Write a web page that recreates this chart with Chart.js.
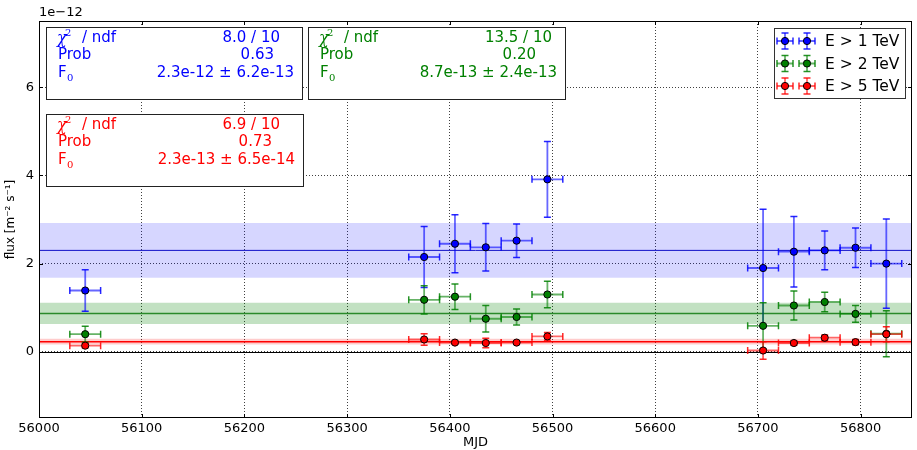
<!DOCTYPE html>
<html>
<head>
<meta charset="utf-8">
<script src="https://cdn.jsdelivr.net/npm/chart.js@4.4.1/dist/chart.umd.min.js"></script>
<style>
    body { margin: 0; background: #fff; }
</style>
</head>
<body>
<canvas id="js-lightcurve" width="917" height="450"></canvas>
<script>
// Lichtkurve - Flusswerte in Einheiten von 1e-12 m^-2 s^-1
const mjd = [56045, 56375, 56405, 56435, 56465, 56495, 56705, 56735, 56765, 56795, 56825];
const mjdErr = [15, 15, 15, 15, 15, 15, 15, 15, 15, 15, 15];

const flux1 = [1.39, 2.15, 2.45, 2.37, 2.52, 3.91, 1.90, 2.27, 2.30, 2.36, 2.00];
const flux1Err = [0.47, 0.69, 0.66, 0.54, 0.38, 0.86, 1.33, 0.80, 0.44, 0.45, 1.01];
const flux2 = [0.40, 1.18, 1.25, 0.75, 0.79, 1.30, 0.59, 1.05, 1.13, 0.86, 0.41];
const flux2Err = [0.18, 0.32, 0.29, 0.30, 0.18, 0.30, 0.52, 0.33, 0.22, 0.19, 0.52];
const flux5 = [0.14, 0.28, 0.21, 0.20, 0.21, 0.35, 0.03, 0.20, 0.32, 0.22, 0.40];
const flux5Err = [0.05, 0.13, 0.03, 0.11, 0.04, 0.09, 0.20, 0.05, 0.06, 0.06, 0.17];

// Fit mit Konstante F0
const fitF0 = [2.3, 0.87, 0.23];
const fitF0Err = [0.62, 0.24, 0.065];

const seriesLabels = ['E > 1 TeV', 'E > 2 TeV', 'E > 5 TeV'];
const chi2Text = ['8.0 / 10', '13.5 / 10', '6.9 / 10'];
const probText = ['0.63', '0.20', '0.73'];
const f0Text = ['2.3e-12 \u00b1 6.2e-13', '8.7e-13 \u00b1 2.4e-13', '2.3e-13 \u00b1 6.5e-14'];

const xTicks = [56000, 56100, 56200, 56300, 56400, 56500, 56600, 56700, 56800];
const yTicks = [0, 2, 4, 6];
const xMin = 56000, xMax = 56850;
const yMin = -1.5, yMax = 7.5;

const FONT = '"DejaVu Sans"';
Chart.defaults.font.family = FONT;
Chart.defaults.color = '#000';

const series = [
    {flux: flux1, err: flux1Err, rgb: '0,0,255', line: '#1010c8', band: 'rgba(0,0,255,0.16)', text: '#0000ff'},
    {flux: flux2, err: flux2Err, rgb: '0,128,0', line: '#2a8a2a', band: 'rgba(0,128,0,0.24)', text: '#008000'},
    {flux: flux5, err: flux5Err, rgb: '255,0,0', line: '#ff0000', band: 'rgba(255,0,0,0.2)', text: '#ff0000'}
];

// Zeichenreihenfolge: Baender + Fitlinien zuerst, dann Punkte
const datasets = [];
let seq = 0;
series.forEach((s, i) => {
    datasets.push({
        type: 'line',
        data: [{x: xMin, y: fitF0[i] + fitF0Err[i]}, {x: xMax, y: fitF0[i] + fitF0Err[i]}],
        borderWidth: 0,
        pointRadius: 0,
        fill: {value: fitF0[i] - fitF0Err[i]},
        backgroundColor: s.band,
        order: 20 - seq++
    });
    datasets.push({
        type: 'line',
        data: [{x: xMin, y: fitF0[i]}, {x: xMax, y: fitF0[i]}],
        borderColor: s.line,
        borderWidth: i === 0 ? 1 : 1.5,
        pointRadius: 0,
        fill: false,
        order: 20 - seq++
    });
});
series.forEach((s, i) => {
    datasets.push({
        type: 'line',
        label: seriesLabels[i],
        showLine: false,
        data: mjd.map((x, k) => ({x: x, y: s.flux[k]})),
        pointRadius: 3.6,
        pointBackgroundColor: 'rgb(' + s.rgb + ')',
        pointBorderColor: '#000',
        pointBorderWidth: 1,
        errX: mjdErr,
        errY: s.err,
        rgb: s.rgb,
        order: 20 - seq++
    });
});

function drawErrBar(ctx, px, py, dxPx, dyPx, rgb) {
    ctx.save();
    ctx.lineWidth = 1.8;
    ctx.strokeStyle = 'rgba(' + rgb + ',0.6)';
    ctx.beginPath();
    ctx.moveTo(px, py - dyPx); ctx.lineTo(px, py + dyPx);
    ctx.moveTo(px - dxPx, py); ctx.lineTo(px + dxPx, py);
    ctx.stroke();
    ctx.strokeStyle = 'rgba(' + rgb + ',0.85)';
    ctx.lineWidth = 1.5;
    ctx.beginPath();
    ctx.moveTo(px - 3.5, py - dyPx); ctx.lineTo(px + 3.5, py - dyPx);
    ctx.moveTo(px - 3.5, py + dyPx); ctx.lineTo(px + 3.5, py + dyPx);
    ctx.moveTo(px - dxPx, py - 3.5); ctx.lineTo(px - dxPx, py + 3.5);
    ctx.moveTo(px + dxPx, py - 3.5); ctx.lineTo(px + dxPx, py + 3.5);
    ctx.stroke();
    ctx.restore();
}

function statBox(ctx, x, y, w, h, color, i, offs) {
    ctx.save();
    ctx.fillStyle = '#fff';
    ctx.fillRect(x, y, w, h);
    ctx.strokeStyle = '#222';
    ctx.lineWidth = 1;
    ctx.strokeRect(x + 0.5, y + 0.5, w, h);
    ctx.fillStyle = color;
    ctx.textBaseline = 'middle';
    const r1 = y + 11, r2 = y + 28.5, r3 = y + 46.5;
    ctx.textAlign = 'left';
    ctx.font = 'italic 16px "DejaVu Serif"';
    ctx.fillText('\u03c7', x + 11, r1 + 1);
    ctx.font = '10px "DejaVu Serif"';
    ctx.fillText('2', x + 19, r1 - 5);
    ctx.font = '15px ' + FONT;
    ctx.fillText('/ ndf', x + 36, r1);
    ctx.fillText('Prob', x + 12, r2);
    ctx.fillText('F', x + 12, r3);
    ctx.font = '10px "DejaVu Serif"';
    ctx.fillText('0', x + 21, r3 + 5);
    ctx.font = '15px ' + FONT;
    ctx.textAlign = 'right';
    ctx.fillText(chi2Text[i], x + w - offs[0], r1);
    ctx.fillText(probText[i], x + w - offs[1], r2);
    ctx.fillText(f0Text[i], x + w - offs[2], r3);
    ctx.restore();
}

const extras = {
    id: 'extras',
    beforeDatasetsDraw(chart) {
        const {ctx, chartArea: a, scales: {y}} = chart;
        const y0 = Math.round(y.getPixelForValue(0)) + 0.5;
        ctx.save();
        ctx.strokeStyle = '#000';
        ctx.lineWidth = 1.2;
        ctx.beginPath();
        ctx.moveTo(a.left, y0); ctx.lineTo(a.right, y0);
        ctx.stroke();
        ctx.restore();
    },
    beforeDatasetDraw(chart, args) {
        const ds = chart.data.datasets[args.index];
        if (!ds.errY) return;
        const {ctx, scales: {x, y}} = chart;
        ds.data.forEach((p, k) => {
            const px = x.getPixelForValue(p.x);
            const py = y.getPixelForValue(p.y);
            const dx = x.getPixelForValue(p.x + ds.errX[k]) - px;
            const dy = py - y.getPixelForValue(p.y + ds.errY[k]);
            drawErrBar(ctx, px, py, dx, dy, ds.rgb);
        });
    },
    afterDraw(chart) {
        const {ctx, chartArea: a, scales: {x, y}} = chart;
        ctx.save();
        // Rahmen + Ticks nach innen
        ctx.strokeStyle = '#000';
        ctx.lineWidth = 1;
        ctx.strokeRect(a.left + 0.5, a.top + 0.5, a.right - a.left - 1, a.bottom - a.top - 1);
        ctx.beginPath();
        xTicks.forEach(v => {
            const px = Math.round(x.getPixelForValue(v)) + 0.5;
            ctx.moveTo(px, a.top); ctx.lineTo(px, a.top + 4);
            ctx.moveTo(px, a.bottom); ctx.lineTo(px, a.bottom - 4);
        });
        yTicks.forEach(v => {
            const py = Math.round(y.getPixelForValue(v)) + 0.5;
            ctx.moveTo(a.left, py); ctx.lineTo(a.left + 4, py);
            ctx.moveTo(a.right, py); ctx.lineTo(a.right - 4, py);
        });
        ctx.stroke();

        // Offset-Label
        ctx.fillStyle = '#000';
        ctx.font = '13px ' + FONT;
        ctx.textBaseline = 'middle';
        ctx.textAlign = 'left';
        ctx.fillText('1e\u221212', a.left, 13);
        ctx.restore();

        // Statistik-Boxen
        statBox(ctx, a.left + 7, a.top + 6, 256, 72, series[0].text, 0, [22, 28, 8]);
        statBox(ctx, a.left + 269, a.top + 6, 257, 72, series[1].text, 1, [13, 29, 8]);
        statBox(ctx, a.left + 7, a.top + 93, 257, 72, series[2].text, 2, [23, 31, 8]);

        // Legende
        const lx = a.right - 138, ly = a.top + 7, lw = 131, lh = 70;
        ctx.save();
        ctx.fillStyle = '#fff';
        ctx.fillRect(lx, ly, lw, lh);
        ctx.strokeStyle = '#333';
        ctx.strokeRect(lx + 0.5, ly + 0.5, lw, lh);
        series.forEach((s, i) => {
            const ry = ly + 13 + i * 22.5;
            [11, 33].forEach(off => {
                drawErrBar(ctx, lx + off, ry, 8, 8, s.rgb);
                ctx.beginPath();
                ctx.arc(lx + off, ry, 3.6, 0, Math.PI * 2);
                ctx.fillStyle = 'rgb(' + s.rgb + ')';
                ctx.fill();
                ctx.strokeStyle = '#000';
                ctx.lineWidth = 1;
                ctx.stroke();
            });
            ctx.fillStyle = '#000';
            ctx.font = '15.5px ' + FONT;
            ctx.textBaseline = 'middle';
            ctx.textAlign = 'left';
            ctx.fillText(seriesLabels[i], lx + 51, ry + 1);
        });
        ctx.restore();
    }
};

const ctx = document.getElementById('js-lightcurve').getContext('2d');
const lightcurve = new Chart(ctx, {
    type: 'line',
    data: {datasets: datasets},
    options: {
        responsive: false,
        animation: false,
        layout: {padding: {top: 21, right: 2, left: 0, bottom: 0}},
        plugins: {legend: {display: false}, tooltip: {enabled: false}},
        scales: {
            x: {
                type: 'linear',
                min: xMin,
                max: xMax,
                afterBuildTicks: (scale) => { scale.ticks = xTicks.map(v => ({value: v})); },
                afterFit: (scale) => { scale.height = 32; },
                ticks: {font: {size: 13}, padding: 3, maxRotation: 0, callback: (v) => String(v)},
                grid: {color: 'rgba(0,0,0,0.75)', lineWidth: 1, drawTicks: false},
                border: {display: false, dash: [1, 2]},
                title: {display: true, text: 'MJD', font: {size: 13}, padding: {top: 0, bottom: 0}}
            },
            y: {
                type: 'linear',
                min: yMin,
                max: yMax,
                afterBuildTicks: (scale) => { scale.ticks = yTicks.map(v => ({value: v})); },
                afterFit: (scale) => { scale.width = 39; },
                ticks: {font: {size: 13}, padding: 5},
                grid: {color: 'rgba(0,0,0,0.75)', lineWidth: 1, drawTicks: false},
                border: {display: false, dash: [1, 2]},
                title: {display: true, text: 'flux [m\u207b\u00b2 s\u207b\u00b9]', font: {size: 12}, padding: {top: 4, bottom: 0}}
            }
        }
    },
    plugins: [extras]
});
</script>
</body>
</html>
